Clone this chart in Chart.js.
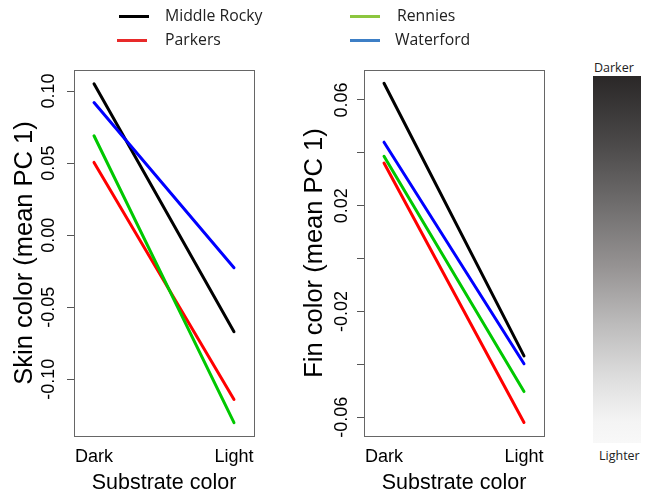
<!DOCTYPE html>
<html>
<head>
<meta charset="utf-8">
<script src="https://cdn.jsdelivr.net/npm/chart.js@4"></script>
<style>
  html, body { margin: 0; padding: 0; background: #fff; }
  #wrap { position: relative; width: 645px; height: 497px; overflow: hidden; font-family: "Open Sans", sans-serif; }
  .cv { position: absolute; top: 0; }
  .leg { position: absolute; font-size: 15.8px; color: #222; line-height: 1; }
  .leg .sw { position: absolute; height: 3px; width: 30px; }
  .leg .tx { position: absolute; white-space: nowrap; }
  #grad { position: absolute; left: 593px; top: 76px; width: 48px; height: 367px;
    background: linear-gradient(to bottom, #2a2727 0%, #4a4848 18%, #6f6d6d 35%, #969393 52%, #bdbcbc 68%, #dddddd 82%, #f4f4f4 94%, #f8f8f8 100%); }
  .glab { position: absolute; font-size: 12.5px; color: #222; white-space: nowrap; }
</style>
</head>
<body>
<div id="wrap">
  <canvas id="c1" class="cv" style="left:0px" width="290" height="497"></canvas>
  <canvas id="c2" class="cv" style="left:290px" width="290" height="497"></canvas>
  <div id="legend"></div>
  <div id="grad"></div>
  <div class="glab" style="left:594px; top:59px;">Darker</div>
  <div class="glab" style="left:599px; top:447px;">Lighter</div>
</div>
<script>
// ---- data ----
const categories = ['Dark', 'Light'];
const seriesNames = ['Middle Rocky', 'Parkers', 'Rennies', 'Waterford'];
const skinMiddleRocky = [0.105, -0.067];
const skinParkers = [0.0505, -0.114];
const skinRennies = [0.069, -0.130];
const skinWaterford = [0.092, -0.0226];
const finMiddleRocky = [0.0663, -0.0368];
const finParkers = [0.0361, -0.0620];
const finRennies = [0.0387, -0.0503];
const finWaterford = [0.0440, -0.0398];
const skinTicks = [0.10, 0.05, 0.00, -0.05, -0.10];
const finTicks = [0.06, 0.04, 0.02, 0.00, -0.02, -0.04, -0.06];
const finTickLabels = ['0.06', '', '0.02', '', '-0.02', '', '-0.06'];
const xTitle = 'Substrate color';
const skinTitle = 'Skin color (mean PC 1)';
const finTitle = 'Fin color (mean PC 1)';

// ---- styles ----
const lineColors = ['#000000', '#ff0000', '#00c800', '#0000ff'];
const legendColors = ['#000000', '#e82a2a', '#8cc63f', '#3d7fc6'];

// ---- legend (HTML) ----
const legendPos = [
  {sx: 119, sy: 15, tx: 165, ty: 8},
  {sx: 117, sy: 39, tx: 165, ty: 32},
  {sx: 350, sy: 15, tx: 397, ty: 8},
  {sx: 350, sy: 39, tx: 395, ty: 32}
];
const legEl = document.getElementById('legend');
seriesNames.forEach((n, i) => {
  const p = legendPos[i];
  const d = document.createElement('div');
  d.className = 'leg';
  d.innerHTML = '<div class="sw" style="left:' + p.sx + 'px;top:' + p.sy + 'px;background:' + legendColors[i] + '"></div>' +
                '<div class="tx" style="left:' + p.tx + 'px;top:' + p.ty + 'px">' + n + '</div>';
  legEl.appendChild(d);
});

// ---- charts ----
const boxPlugin = {
  id: 'box',
  afterDraw(chart) {
    const a = chart.chartArea, ctx = chart.ctx;
    ctx.save();
    ctx.strokeStyle = '#666';
    ctx.lineWidth = 1;
    ctx.strokeRect(Math.round(a.left) + 0.5, Math.round(a.top) + 0.5, Math.round(a.right - a.left), Math.round(a.bottom - a.top));
    ctx.restore();
  }
};

function makeChart(id, series, yMin, yMax, yTicks, yLabels, yTitle, tickPad) {
  const datasets = series.map((vals, i) => ({
    label: seriesNames[i],
    data: vals.map((v, j) => ({x: j + 1, y: v})),
    borderColor: lineColors[i],
    borderWidth: 3,
    pointRadius: 0,
    borderCapStyle: 'round',
    fill: false,
    order: series.length - i
  }));
  return new Chart(document.getElementById(id), {
    type: 'line',
    data: { datasets },
    options: {
      responsive: false,
      animation: false,
      events: [],
      layout: { padding: { top: 70, right: 36, left: 0, bottom: 0 } },
      plugins: { legend: { display: false }, tooltip: { enabled: false } },
      scales: {
        x: {
          type: 'linear',
          min: 0.857, max: 2.143,
          afterBuildTicks(s) { s.ticks = categories.map((c, i) => ({value: i + 1})); },
          afterFit(s) { s.height = 61; },
          grid: { display: false, drawTicks: false },
          border: { display: false },
          ticks: {
            callback: (v) => categories[Math.round(v) - 1] || '',
            font: { family: 'Liberation Sans', size: 18 },
            color: '#000',
            padding: 10,
            maxRotation: 0, minRotation: 0,
            autoSkip: false
          },
          title: {
            display: true, text: xTitle,
            font: { family: 'Liberation Sans', size: 21.5 },
            color: '#000',
            padding: { top: 0, bottom: 1 }
          }
        },
        y: {
          type: 'linear',
          min: yMin, max: yMax,
          afterBuildTicks(s) { s.ticks = yTicks.map(v => ({value: v})); },
          afterFit(s) { s.width = 74; },
          grid: { drawOnChartArea: false, drawTicks: true, tickLength: 7, color: '#555', lineWidth: 1 },
          border: { display: false },
          ticks: {
            callback: (v) => { const k = yTicks.findIndex(t => Math.abs(t - v) < 1e-9); return k >= 0 ? yLabels[k] : ''; },
            font: { family: 'Liberation Sans', size: 18 },
            color: '#000',
            minRotation: 90, maxRotation: 90,
            crossAlign: 'center',
            padding: tickPad,
            autoSkip: false
          },
          title: {
            display: true, text: yTitle,
            font: { family: 'Liberation Sans', size: 25.5 },
            color: '#000',
            padding: { top: 10, bottom: 0 }
          }
        }
      }
    },
    plugins: [boxPlugin]
  });
}

makeChart('c1', [skinMiddleRocky, skinParkers, skinRennies, skinWaterford], -0.1393, 0.1146,
  skinTicks, skinTicks.map(v => v.toFixed(2)), skinTitle, -3);
makeChart('c2', [finMiddleRocky, finParkers, finRennies, finWaterford], -0.0671, 0.0713,
  finTicks, finTickLabels, finTitle, -6);
</script>
</body>
</html>
